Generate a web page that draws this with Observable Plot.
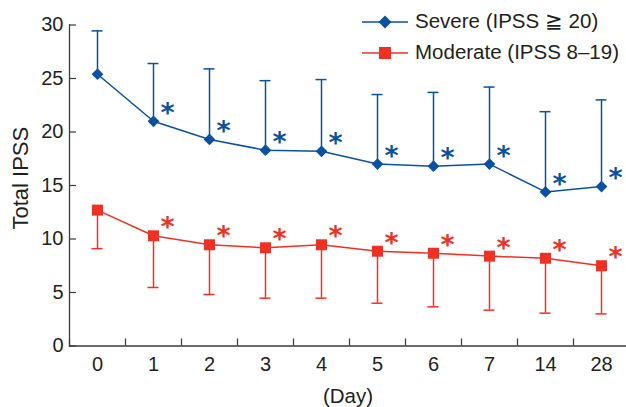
<!DOCTYPE html>
<html><head><meta charset="utf-8">
<script src="https://cdn.jsdelivr.net/npm/d3@7"></script>
<script src="https://cdn.jsdelivr.net/npm/@observablehq/plot@0.6"></script>
<style>
body{margin:0;background:#fff;}
#wrap{position:relative;width:626px;height:407px;font-family:"Liberation Sans",Arial,sans-serif;color:#231f20;overflow:hidden}
#legend{position:absolute;left:362px;top:6px;font-size:20.5px;line-height:1}
.item{display:flex;align-items:center;height:31px;white-space:nowrap}
.item svg{margin-right:7px;flex:none}
</style></head><body><div id="wrap"><div id="chart"></div><div id="legend"></div></div>
<script>
const days = ["0","1","2","3","4","5","6","7","14","28"];
const severeMean = [25.4, 21.0, 19.3, 18.3, 18.2, 17.0, 16.8, 17.0, 14.4, 14.9];
const severeSD   = [4.05, 5.4, 6.6, 6.5, 6.7, 6.5, 6.9, 7.2, 7.5, 8.1];
const moderateMean = [12.7, 10.3, 9.46, 9.18, 9.46, 8.86, 8.67, 8.4, 8.2, 7.5];
const moderateSD   = [3.6, 4.83, 4.65, 4.71, 4.99, 4.86, 5.01, 5.05, 5.13, 4.5];
const significant = [false, true, true, true, true, true, true, true, true, true];
const yTicks = [0, 5, 10, 15, 20, 25, 30];
const seriesNames = ["Severe (IPSS \u2267 20)", "Moderate (IPSS 8\u201319)"];

const blue = "#0b519e", red = "#ee3124", ink = "#231f20", axisInk = "#3a3a3a";

const severe = days.map((d, i) => ({day: d, mean: severeMean[i], sd: severeSD[i], sig: significant[i]}));
const moderate = days.map((d, i) => ({day: d, mean: moderateMean[i], sd: moderateSD[i], sig: significant[i]}));

const W = 626, H = 407, ML = 69, MT = 24.5, MB = 61.5;
const xRange = [ML, W + 3];
const bw = (xRange[1] - xRange[0]) / days.length;
const capInset = (bw - 11) / 2;
const starStyle = {text: () => "*", dx: 14, dy: -8, fontSize: 27, fontWeight: "bold", fontFamily: "'DejaVu Sans', sans-serif"};

const plot = Plot.plot({
  width: W, height: H,
  marginLeft: ML, marginRight: 0, marginTop: MT, marginBottom: MB,
  style: {fontFamily: "'Liberation Sans', Arial, sans-serif", fontSize: "20px", color: ink, background: "white", overflow: "visible"},
  x: {type: "band", domain: days, range: xRange, padding: 0},
  y: {domain: [0, 30]},
  marks: [
    Plot.axisY({ticks: yTicks, tickSize: 0, tickPadding: 6, label: null, fontSize: 20, fill: ink}),
    Plot.axisY({ticks: yTicks, tickSize: 7, dx: 7, tickFormat: () => "", label: null, stroke: axisInk, strokeWidth: 1.2}),
    Plot.axisX({tickSize: 0, tickPadding: 11, label: null, fontSize: 20, fill: ink}),
    Plot.axisX({tickSize: 7, dy: -7, dx: -bw / 2, tickFormat: () => "", label: null, stroke: axisInk, strokeWidth: 1.2}),
    Plot.frame({anchor: "left", stroke: axisInk, strokeWidth: 1.3}),
    Plot.frame({anchor: "bottom", stroke: axisInk, strokeWidth: 1.3}),
    Plot.text(["Total IPSS"], {frameAnchor: "left", rotate: -90, textAnchor: "middle", lineAnchor: "middle", dx: -48.7, dy: -7.3, fontSize: 22, fill: ink}),
    Plot.text(["(Day)"], {frameAnchor: "bottom", textAnchor: "middle", lineAnchor: "middle", dy: 50, fontSize: 20.5, fill: ink}),
    // severe
    Plot.ruleX(severe, {x: "day", y1: "mean", y2: d => d.mean + d.sd, stroke: blue, strokeWidth: 1.5}),
    Plot.tickY(severe, {x: "day", y: d => d.mean + d.sd, insetLeft: capInset, insetRight: capInset, stroke: blue, strokeWidth: 1.5}),
    Plot.line(severe, {x: "day", y: "mean", stroke: blue, strokeWidth: 1.5}),
    Plot.dot(severe, {x: "day", y: "mean", symbol: "diamond2", r: 5.3, fill: blue, stroke: "none"}),
    Plot.text(severe.filter(d => d.sig), {x: "day", y: "mean", ...starStyle, fill: blue}),
    // moderate
    Plot.ruleX(moderate, {x: "day", y1: "mean", y2: d => d.mean - d.sd, stroke: red, strokeWidth: 1.5}),
    Plot.tickY(moderate, {x: "day", y: d => d.mean - d.sd, insetLeft: capInset, insetRight: capInset, stroke: red, strokeWidth: 1.5}),
    Plot.line(moderate, {x: "day", y: "mean", stroke: red, strokeWidth: 1.5}),
    Plot.dot(moderate, {x: "day", y: "mean", symbol: "square", r: 6.2, fill: red, stroke: "none"}),
    Plot.text(moderate.filter(d => d.sig), {x: "day", y: "mean", ...starStyle, fill: red})
  ]
});
document.getElementById("chart").appendChild(plot);

// legend
const legend = d3.select("#legend");
const items = [
  {name: seriesNames[0], color: blue, shape: "diamond"},
  {name: seriesNames[1], color: red, shape: "square"}
];
for (const it of items) {
  const row = legend.append("div").attr("class", "item");
  const s = row.append("svg").attr("width", 46).attr("height", 16);
  s.append("line").attr("x1", 0).attr("x2", 46).attr("y1", 8).attr("y2", 8).attr("stroke", it.color).attr("stroke-width", 1.5);
  if (it.shape === "diamond") {
    s.append("path").attr("d", "M23,1.5L29.5,8L23,14.5L16.5,8Z").attr("fill", it.color);
  } else {
    s.append("rect").attr("x", 17).attr("y", 2).attr("width", 12).attr("height", 12).attr("fill", it.color);
  }
  row.append("span").text(it.name);
}
</script></body></html>
